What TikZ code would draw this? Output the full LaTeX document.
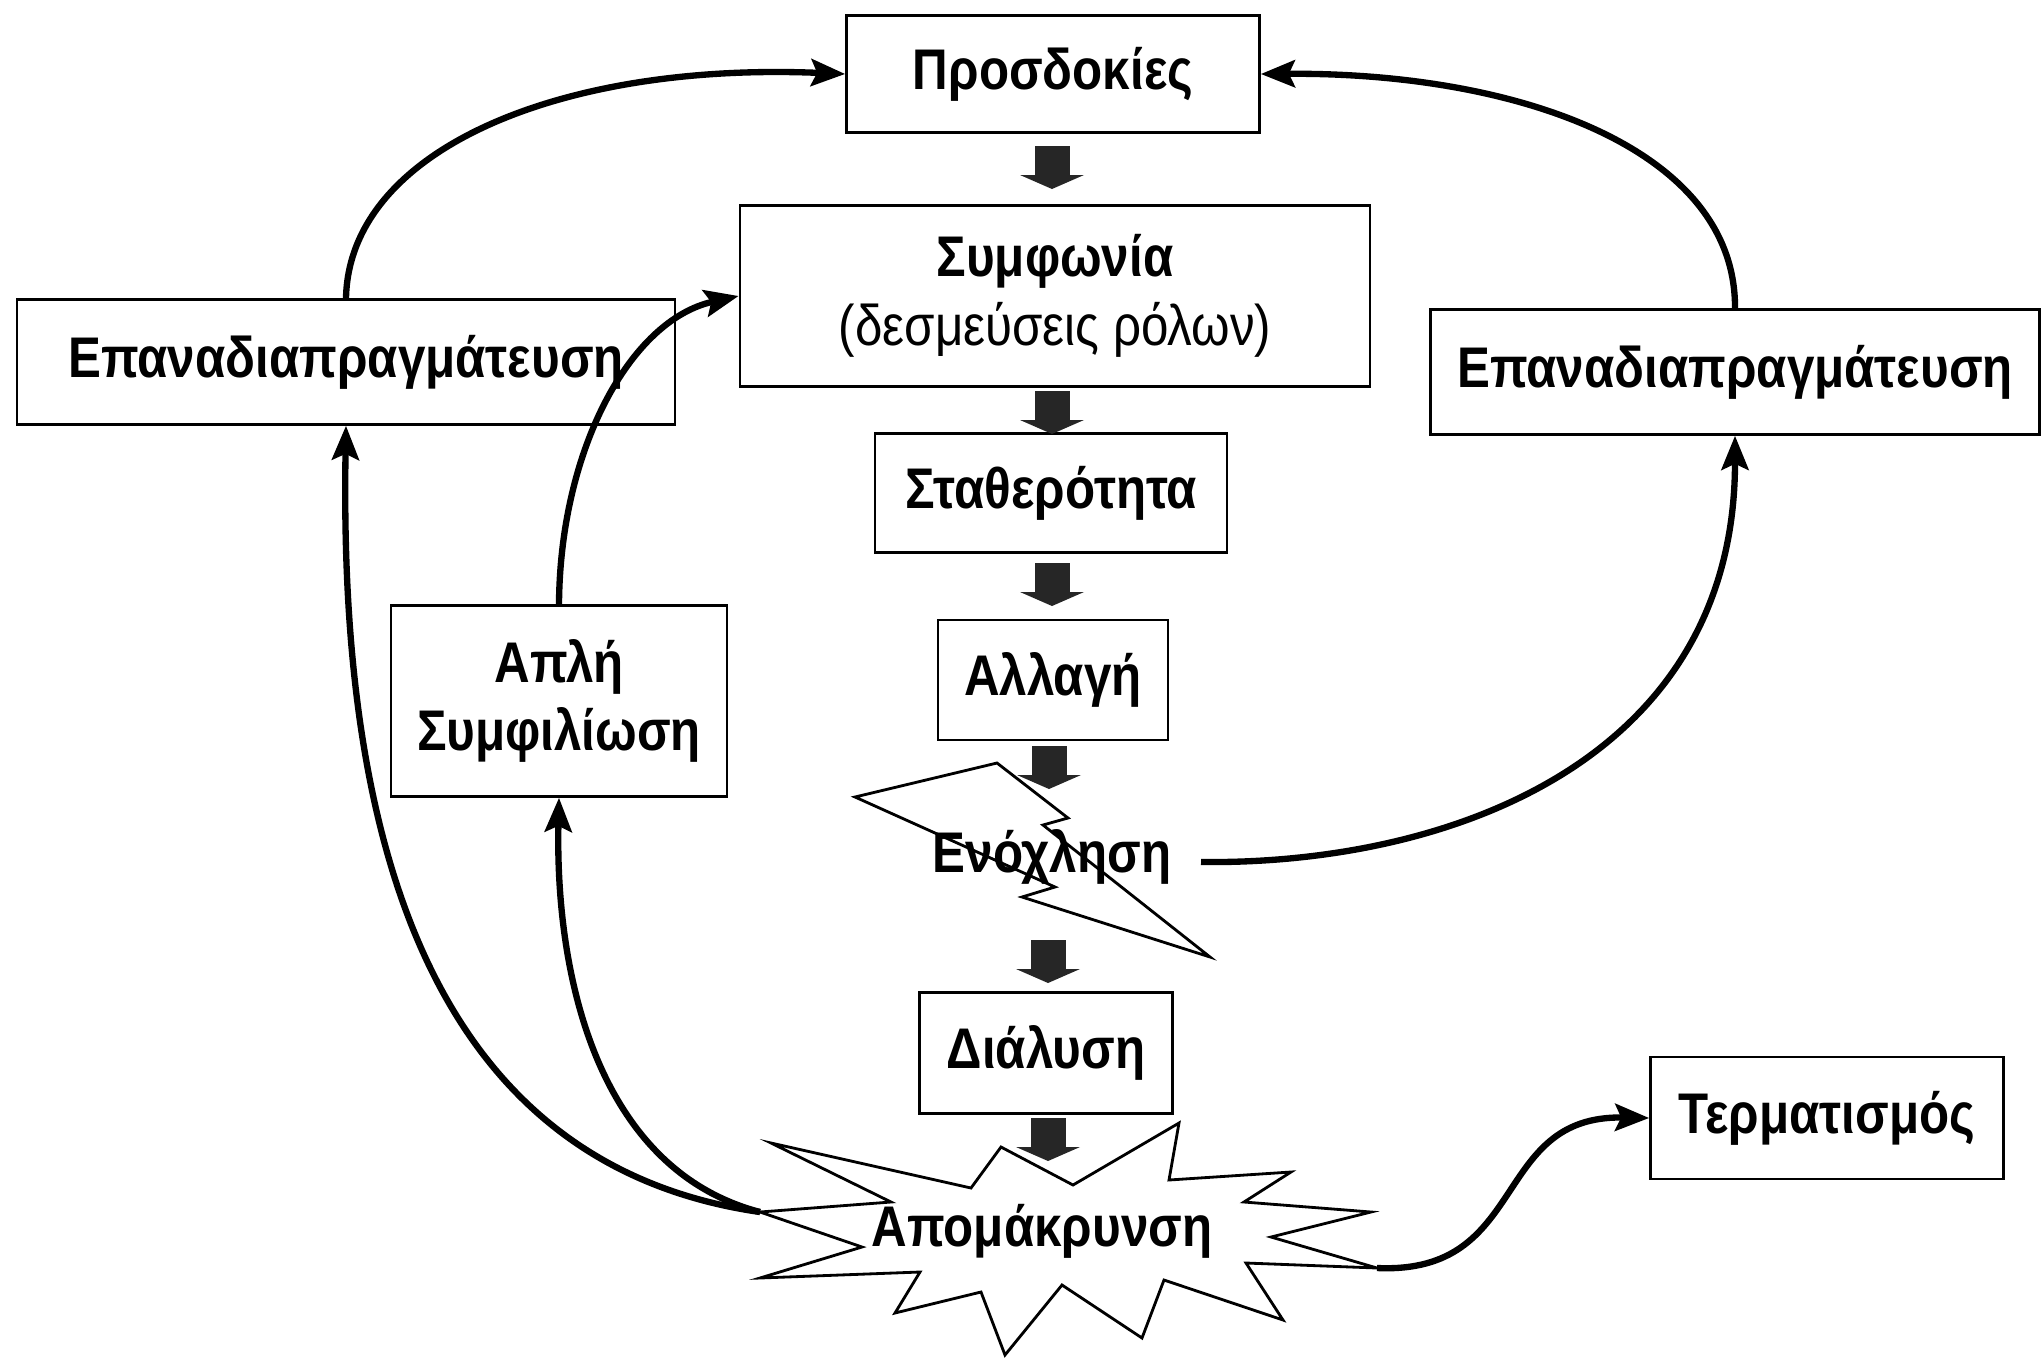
\documentclass[tikz,border=0pt]{standalone}
\usepackage{fontspec}
\setmainfont[FakeStretch=0.86]{Liberation Sans}
\usetikzlibrary{arrows.meta}
\begin{document}
\begin{tikzpicture}[x=0.01cm,y=-0.01cm,
  box/.style={draw, line width=0.7pt, align=center, inner sep=0pt, font=\fontsize{16.3}{19.5}\selectfont\bfseries},
  lbl/.style={align=center, inner sep=0pt, font=\fontsize{16.3}{19.5}\selectfont\bfseries},
  conn/.style={line width=1.8pt, -{Stealth[length=0.34cm,width=0.27cm,inset=0.06cm]}},
  shapeline/.style={line width=0.8pt, line join=miter},
  barrow/.pic={\fill[black!85] (-17.5,0) rectangle (17.5,31);
               \fill[black!85] (-32,29) -- (32,29) -- (0,43) -- cycle;}]
\useasboundingbox (0,0) rectangle (2042,1357);

% boxes
\node[box, minimum width=4.13cm, minimum height=1.17cm] (pros) at (1053,74) {Προσδοκίες};
\node[box, minimum width=6.30cm, minimum height=1.81cm] (symf) at (1055,296)
  {Συμφωνία\\{\mdseries (δεσμεύσεις ρόλων)}};
\node[box, minimum width=3.52cm, minimum height=1.19cm] (stath) at (1051,493) {Σταθερότητα};
\node[box, minimum width=2.30cm, minimum height=1.20cm] (allagi) at (1053,680) {Αλλαγή};
\node[box, minimum width=2.53cm, minimum height=1.21cm] (dial) at (1046,1053) {Διάλυση};
\node[box, minimum width=6.58cm, minimum height=1.25cm] (epL) at (346,362) {Επαναδιαπραγμάτευση};
\node[box, minimum width=6.09cm, minimum height=1.25cm] (epR) at (1735,372) {Επαναδιαπραγμάτευση};
\node[box, minimum width=3.36cm, minimum height=1.91cm] (apli) at (559,701) {Απλή\\Συμφιλίωση};
\node[box, minimum width=3.53cm, minimum height=1.22cm] (term) at (1827,1118) {Τερματισμός};

% lightning bolt
\draw[shapeline] (855,797) -- (997,763) -- (1068,818) -- (1043,825) -- (1210,957)
  -- (1022,897) -- (1055,887) -- cycle;
\node[lbl] (enox) at (1052,857) {Ενόχληση};
\coordinate (enoxout) at (1201,862);

% starburst
\draw[shapeline] (771,1143) -- (971,1188) -- (1001,1147) -- (1073,1185) -- (1179,1123)
  -- (1169,1180) -- (1291,1172) -- (1244,1202) -- (1371,1212) -- (1271,1237)
  -- (1377,1268) -- (1246,1263) -- (1283,1320) -- (1164,1280) -- (1142,1338)
  -- (1062,1285) -- (1005,1355) -- (981,1292) -- (895,1313) -- (920,1272)
  -- (760,1278) -- (862,1247) -- (760,1212) -- (891,1202) -- cycle;
\node[lbl] (apom) at (1042,1231) {Απομάκρυνση};
\coordinate (sbL) at (760,1212);
\coordinate (sbR) at (1377,1268);

% block arrows
\pic at (1052,146) {barrow};
\pic at (1052,391) {barrow};
\pic at (1052,563) {barrow};
\pic at (1049,746) {barrow};
\pic at (1048,940) {barrow};
\pic at (1048,1118) {barrow};

% curved connectors
\draw[conn] (epL.north) .. controls (349,150) and (560,62) .. (pros.west);
\draw[conn] (epR.north) .. controls (1736,150) and (1520,72) .. (pros.east);
\draw[conn] (enoxout) .. controls (1450,865) and (1735,760) .. (epR.south);
\draw[conn] (sbL) .. controls (400,1160) and (340,780) .. (epL.south);
\draw[conn] (sbL) .. controls (600,1170) and (555,980) .. (apli.south);
\draw[conn] (apli.north) .. controls (560,450) and (630,320) .. (symf.west);
\draw[conn] (sbR) .. controls (1530,1275) and (1490,1115) .. (term.west);
\end{tikzpicture}
\end{document}
